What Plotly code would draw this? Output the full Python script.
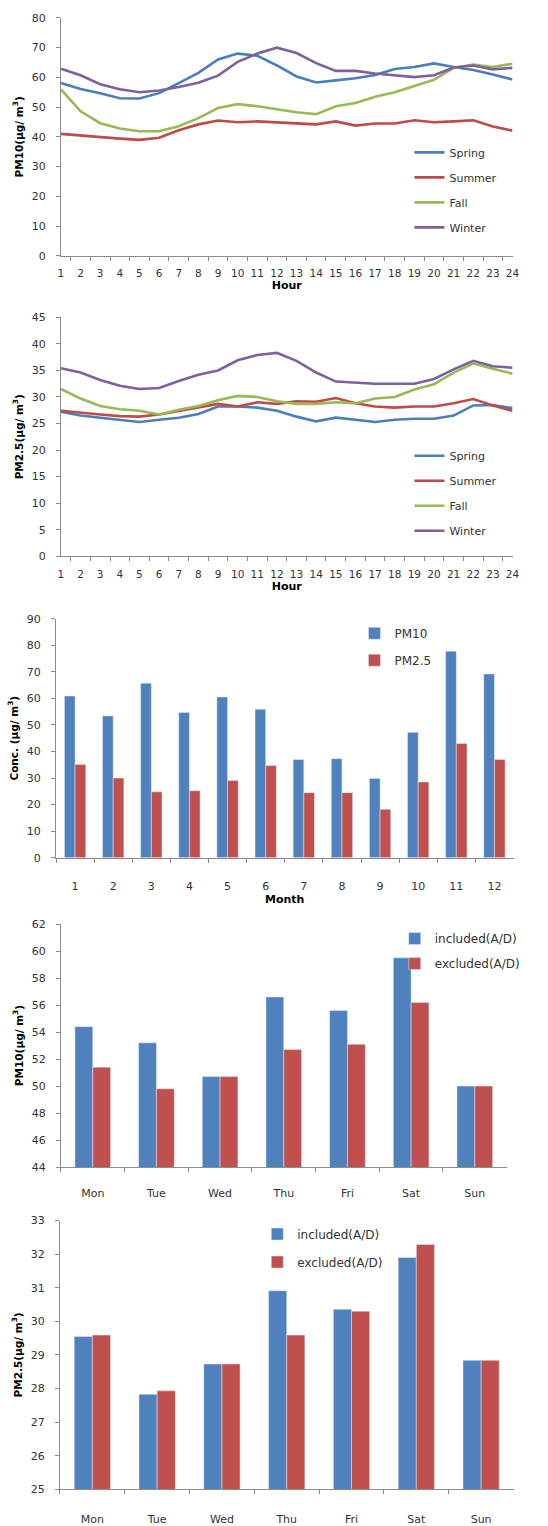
import plotly.graph_objects as go

# ---- data -------------------------------------------------------------
hours = list(range(1, 25))
seasons = ["Spring", "Summer", "Fall", "Winter"]
season_colors = ["#4a7ebb", "#be4b48", "#98b954", "#7d60a0"]

pm10_hourly = {
    "Spring": [58.1, 56.1, 54.7, 53.0, 52.9, 54.7, 58.1, 61.5, 66.0, 68.0, 67.3, 64.0,
               60.3, 58.3, 59.0, 59.7, 60.8, 62.8, 63.5, 64.7, 63.5, 62.5, 61.0, 59.3],
    "Summer": [41.0, 40.4, 40.0, 39.4, 39.0, 39.7, 42.2, 44.2, 45.5, 44.9, 45.2, 44.9,
               44.6, 44.2, 45.2, 43.8, 44.5, 44.5, 45.6, 44.9, 45.2, 45.6, 43.5, 42.1],
    "Fall":   [56.0, 48.6, 44.6, 42.8, 41.9, 41.9, 43.6, 46.3, 49.7, 51.0, 50.3, 49.2,
               48.3, 47.6, 50.3, 51.4, 53.5, 55.0, 57.0, 59.2, 63.2, 64.3, 63.5, 64.6],
    "Winter": [62.9, 60.7, 57.7, 56.0, 55.0, 55.6, 56.8, 58.2, 60.6, 65.2, 68.0, 70.0,
               68.2, 64.8, 62.2, 62.2, 61.3, 60.8, 60.1, 60.7, 63.3, 64.0, 62.7, 63.2],
}

pm25_hourly = {
    "Spring": [27.2, 26.5, 26.1, 25.7, 25.3, 25.7, 26.1, 26.8, 28.2, 28.2, 28.0, 27.4,
               26.3, 25.4, 26.1, 25.7, 25.3, 25.7, 25.9, 25.9, 26.5, 28.4, 28.5, 27.9],
    "Summer": [27.4, 27.0, 26.7, 26.4, 26.3, 26.7, 27.4, 28.1, 28.7, 28.2, 29.0, 28.7,
               29.2, 29.1, 29.8, 28.8, 28.2, 28.0, 28.2, 28.2, 28.8, 29.6, 28.4, 27.4],
    "Fall":   [31.5, 29.7, 28.3, 27.7, 27.4, 26.7, 27.6, 28.3, 29.4, 30.2, 30.0, 29.2,
               28.7, 28.7, 29.0, 28.8, 29.7, 30.0, 31.4, 32.4, 34.6, 36.3, 35.3, 34.4],
    "Winter": [35.4, 34.6, 33.2, 32.1, 31.5, 31.7, 33.0, 34.2, 35.0, 36.9, 37.9, 38.3,
               36.8, 34.6, 32.9, 32.7, 32.5, 32.5, 32.5, 33.4, 35.2, 36.8, 35.8, 35.5],
}

months = list(range(1, 13))
pm10_monthly = [60.9, 53.4, 65.7, 54.7, 60.5, 55.9, 37.0, 37.3, 29.8, 47.2, 77.8, 69.2]
pm25_monthly = [35.1, 30.0, 24.8, 25.2, 29.1, 34.7, 24.5, 24.5, 18.2, 28.5, 43.0, 37.0]

weekdays = ["Mon", "Tue", "Wed", "Thu", "Fri", "Sat", "Sun"]
pm10_included = [54.4, 53.2, 50.7, 56.6, 55.6, 59.5, 50.0]
pm10_excluded = [51.4, 49.8, 50.7, 52.7, 53.1, 56.2, 50.0]
pm25_included = [29.55, 27.83, 28.73, 30.91, 30.36, 31.9, 28.84]
pm25_excluded = [29.59, 27.93, 28.73, 29.59, 30.30, 32.29, 28.84]

BLUE = "#4f81bd"
RED = "#c0504d"

# ---- layout helpers ---------------------------------------------------
W, H = 548, 1526


def xdom(left, right):
    return [left / W, right / W]


def ydom(top, bottom):
    return [1 - bottom / H, 1 - top / H]


AXIS_GREY = "#8c8c8c"
TICK_FONT = dict(family="DejaVu Sans", size=11, color="#333333")
TITLE_FONT = dict(family="DejaVu Sans", size=10.5, color="#000000")

fig = go.Figure()

# ---- panels 1 & 2: hourly lines ---------------------------------------
for idx, (data, leg) in enumerate([(pm10_hourly, "legend"), (pm25_hourly, "legend2")]):
    xa = "x" if idx == 0 else "x2"
    ya = "y" if idx == 0 else "y2"
    for s, c in zip(seasons, season_colors):
        fig.add_trace(go.Scatter(
            x=hours, y=data[s], name=s, mode="lines",
            line=dict(color=c, width=2.6),
            xaxis=xa, yaxis=ya, legend=leg, legendgroup=f"{leg}-{s}",
        ))

# ---- panel 3: monthly bars --------------------------------------------
fig.add_trace(go.Bar(x=months, y=pm10_monthly, name="PM10", marker_color=BLUE,
                     xaxis="x3", yaxis="y3", legend="legend3", legendgroup="m10"))
fig.add_trace(go.Bar(x=months, y=pm25_monthly, name="PM2.5", marker_color=RED,
                     xaxis="x3", yaxis="y3", legend="legend3", legendgroup="m25"))

# ---- panels 4 & 5: weekday bars ---------------------------------------
fig.add_trace(go.Bar(x=weekdays, y=pm10_included, name="included(A/D)", marker_color=BLUE,
                     xaxis="x4", yaxis="y4", legend="legend4", legendgroup="w10i"))
fig.add_trace(go.Bar(x=weekdays, y=pm10_excluded, name="excluded(A/D)", marker_color=RED,
                     xaxis="x4", yaxis="y4", legend="legend4", legendgroup="w10e"))
fig.add_trace(go.Bar(x=weekdays, y=pm25_included, name="included(A/D)", marker_color=BLUE,
                     xaxis="x5", yaxis="y5", legend="legend5", legendgroup="w25i"))
fig.add_trace(go.Bar(x=weekdays, y=pm25_excluded, name="excluded(A/D)", marker_color=RED,
                     xaxis="x5", yaxis="y5", legend="legend5", legendgroup="w25e"))


def x_axis(dom, anchor, title, label_standoff, title_standoff, font_size=11):
    return dict(
        domain=dom, anchor=anchor, type="category", tickson="boundaries",
        showline=True, linecolor=AXIS_GREY, linewidth=1,
        ticks="outside", ticklen=4, tickcolor=AXIS_GREY,
        showgrid=False, zeroline=False,
        tickfont=dict(TICK_FONT, size=font_size), tickangle=0,
        ticklabelstandoff=label_standoff,
        title=dict(text=title, font=dict(family="DejaVu Sans", size=11, color="#000"),
                   standoff=title_standoff) if title else None,
    )


def y_axis(dom, anchor, title, rng, dtick):
    return dict(
        domain=dom, anchor=anchor, range=rng, dtick=dtick,
        showline=True, linecolor=AXIS_GREY, linewidth=1,
        ticks="outside", ticklen=4, tickcolor=AXIS_GREY,
        showgrid=False, zeroline=False, tickfont=TICK_FONT,
        ticklabelstandoff=8,
        title=dict(text=title, font=TITLE_FONT, standoff=6),
    )


def legend(x_px, top_px, gap, size=11):
    return dict(
        x=x_px / W, y=1 - top_px / H, xanchor="left", yanchor="top",
        bgcolor="rgba(0,0,0,0)", borderwidth=0,
        font=dict(family="DejaVu Sans", size=size, color="#333333"),
        tracegroupgap=gap, itemwidth=30,
    )


UNIT = "(μg/ m<sup>3</sup>)"

fig.update_layout(
    width=W, height=H,
    margin=dict(l=0, r=0, t=0, b=0),
    paper_bgcolor="white", plot_bgcolor="white",
    barmode="group", bargap=0.44, bargroupgap=0,
    xaxis=x_axis(xdom(59, 519), "y", "<b>Hour</b>", 8, 2, 10.5),
    yaxis=y_axis(ydom(12, 252), "x", "<b>PM10" + UNIT + "</b>", [0, 80], 10),
    xaxis2=x_axis(xdom(59, 519), "y2", "<b>Hour</b>", 8, 2, 10.5),
    yaxis2=y_axis(ydom(314, 555), "x2", "<b>PM2.5" + UNIT + "</b>", [0, 45], 5),
    xaxis3=x_axis(xdom(54, 520), "y3", "<b>Month</b>", 18, 0),
    yaxis3=y_axis(ydom(618, 859), "x3", "<b>Conc. " + UNIT + "</b>", [0, 90], 10),
    xaxis4=x_axis(xdom(59, 513), "y4", None, 16, 0),
    yaxis4=y_axis(ydom(926, 1171), "x4", "<b>PM10" + UNIT + "</b>", [44, 62], 2),
    xaxis5=x_axis(xdom(58, 520), "y5", None, 20, 0),
    yaxis5=y_axis(ydom(1225, 1496), "x5", "<b>PM2.5" + UNIT + "</b>", [25, 33], 1),
    legend=legend(414, 133, 6),
    legend2=legend(414, 439, 6),
    legend3=legend(358, 618, 8, 12),
    legend4=legend(399, 926, 6, 12),
    legend5=legend(259, 1224, 9, 12),
    showlegend=True,
)

fig.write_html("out.html")
